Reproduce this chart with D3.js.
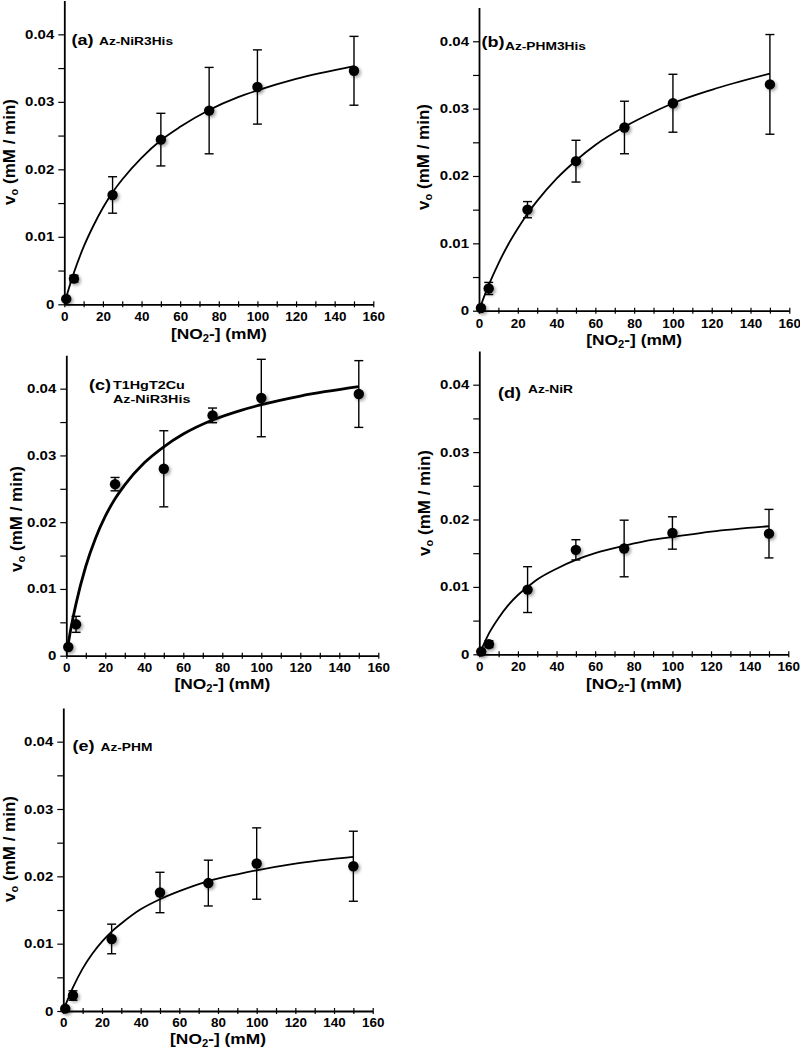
<!DOCTYPE html>
<html>
<head>
<meta charset="utf-8">
<script src="https://cdn.jsdelivr.net/npm/d3@7"></script>
<style>
  html, body { margin: 0; padding: 0; background: #fff; }
  svg { display: block; }
</style>
</head>
<body>
<div id="chart"></div>
<script>
// ---------------- DATA ----------------
const panelIds = ["a", "b", "c", "d", "e"];
const panelTags = ["(a)", "(b)", "(c)", "(d)", "(e)"];
const panelNames = [["Az-NiR3His"], ["Az-PHM3His"], ["T1HgT2Cu", "Az-NiR3His"], ["Az-NiR"], ["Az-PHM"]];

// substrate concentrations [NO2-] (mM)
const nitrite = [1, 5, 25, 50, 75, 100, 150];

// measured initial rates v0 (mM/min) and error bars
const rateA = [0.0008, 0.0038, 0.0162, 0.0244, 0.0287, 0.0322, 0.0346];
const errA  = [0, 0.0005, 0.0027, 0.0039, 0.0064, 0.0055, 0.0051];
const rateB = [0.0004, 0.0033, 0.0150, 0.0222, 0.0272, 0.0308, 0.0336];
const errB  = [0, 0.0009, 0.0012, 0.0031, 0.0039, 0.0043, 0.0074];
const rateC = [0.0013, 0.0047, 0.0257, 0.0280, 0.0360, 0.0386, 0.0392];
const errC  = [0, 0.0012, 0.0010, 0.0057, 0.0011, 0.0058, 0.0050];
const rateD = [0.0004, 0.0015, 0.0096, 0.0155, 0.0157, 0.0180, 0.0179];
const errD  = [0, 0.0005, 0.0034, 0.0015, 0.0042, 0.0024, 0.0036];
const rateE = [0.00035, 0.0023, 0.0107, 0.0176, 0.0190, 0.0219, 0.0215];
const errE  = [0, 0.0007, 0.0022, 0.0030, 0.0034, 0.0053, 0.0052];

// fitted (Michaelis-Menten) curves
const fitX  = [1, 2, 5, 10, 15, 20, 25, 30, 40, 50, 60, 75, 90, 100, 120, 150];
const fitA  = [0.0010, 0.0020, 0.0047, 0.0085, 0.0116, 0.0143, 0.0166, 0.0185, 0.0217, 0.0243, 0.0263, 0.0288, 0.0307, 0.0317, 0.0334, 0.0353];
const fitB  = [0.0008, 0.0016, 0.0038, 0.0070, 0.0098, 0.0122, 0.0144, 0.0163, 0.0196, 0.0223, 0.0246, 0.0273, 0.0295, 0.0308, 0.0328, 0.0352];
const fitC  = [0.0018, 0.0035, 0.0078, 0.0134, 0.0176, 0.0209, 0.0235, 0.0256, 0.0289, 0.0313, 0.0332, 0.0353, 0.0368, 0.0376, 0.0389, 0.0403];
const fitD  = [0.0007, 0.0013, 0.0031, 0.0054, 0.0073, 0.0088, 0.0100, 0.0111, 0.0127, 0.0140, 0.0150, 0.0161, 0.0170, 0.0174, 0.0182, 0.0190];
const fitE  = [0.0008, 0.0015, 0.0035, 0.0063, 0.0085, 0.0103, 0.0118, 0.0130, 0.0151, 0.0166, 0.0178, 0.0193, 0.0203, 0.0209, 0.0219, 0.0229];

const rates = [rateA, rateB, rateC, rateD, rateE];
const errs = [errA, errB, errC, errD, errE];
const fits = [fitA, fitB, fitC, fitD, fitE];

// axes
const xTicks = [0, 20, 40, 60, 80, 100, 120, 140, 160];
const xMinorTicks = [10, 30, 50, 70, 90, 110, 130, 150];
const yTicks = [0, 0.01, 0.02, 0.03, 0.04];
const yMinorTicks = [0.005, 0.015, 0.025, 0.035];
const yTickLabels = ["0", "0.01", "0.02", "0.03", "0.04"];
const xDomain = [0, 160];
const yDomain = [0, 0.045];

// ---------------- LAYOUT ----------------
const layout = {
  a: { x0: 64.3, x1: 373.3, y0: 304.3, yT: 0.6,   tp: 8, xlDy: 34.5, ylx: 15,  yly: 152, tagX: 71.5, tagY: 44.5, nameX: 99,  nameY: [44.5], nameSize: 11 },
  b: { x0: 479,  x1: 789.3, y0: 310.7, yT: 7.6,   tp: 8, xlDy: 34.5, ylx: 429, yly: 157, tagX: 481.5, tagY: 46.5, nameX: 505, nameY: [50], nameSize: 11 },
  c: { x0: 66.3, x1: 378.3, y0: 655.7, yT: 355.3, tp: 7, xlDy: 33.5, ylx: 22,  yly: 519, tagX: 89,  tagY: 390, nameX: 113, nameY: [389, 402.5], nameSize: 11.5 },
  d: { x0: 479.3, x1: 788.3, y0: 654.3, yT: 351,  tp: 8, xlDy: 34.5, ylx: 430, yly: 503, tagX: 498, tagY: 398, nameX: 528, nameY: [393], nameSize: 11 },
  e: { x0: 63.3, x1: 372.7, y0: 1011, yT: 708,    tp: 7, xlDy: 33,   ylx: 15,  yly: 849, tagX: 72.5, tagY: 750.5, nameX: 100.5, nameY: [750.5], nameSize: 11 }
};

const FONT = "'Liberation Sans', Arial, Helvetica, sans-serif";
const SX = 1.2;   // horizontal stretch of the text in the original
const SXX = 1.05; // stretch of the x tick labels

const svg = d3.select("#chart").append("svg")
  .attr("width", 800).attr("height", 1050)
  .attr("viewBox", "0 0 800 1050");
svg.append("rect").attr("width", 800).attr("height", 1050).attr("fill", "#fff");

const defs = svg.append("defs");
const f = defs.append("filter").attr("id", "shadow")
  .attr("x", "-50%").attr("y", "-50%").attr("width", "220%").attr("height", "220%");
f.append("feDropShadow").attr("dx", 1.8).attr("dy", 1.8).attr("stdDeviation", 1.4)
  .attr("flood-color", "#000").attr("flood-opacity", 0.35);

function sText(parent, x, y, size, anchor, sx) {
  const g = parent.append("g").attr("transform", `translate(${x},${y}) scale(${sx},1)`);
  return g.append("text")
    .attr("font-family", FONT).attr("font-weight", "bold")
    .attr("font-size", size).attr("text-anchor", anchor).attr("fill", "#000");
}

panelIds.forEach((id, i) => {
  const L = layout[id];
  const g = svg.append("g").attr("class", "panel-" + id);
  const x = d3.scaleLinear().domain(xDomain).range([L.x0, L.x1]);
  const y = d3.scaleLinear().domain(yDomain).range([L.y0, L.yT]);

  // y axis
  const yAx = g.append("g").attr("transform", `translate(${L.x0},0)`)
    .call(d3.axisLeft(y).tickValues(yTicks).tickSize(6).tickSizeOuter(0).tickPadding(4)
      .tickFormat((d, k) => yTickLabels[k]));
  yAx.select(".domain").attr("stroke-width", 1.8);
  yAx.selectAll(".tick line").attr("stroke-width", 1.2);
  yAx.selectAll(".tick text")
    .attr("font-family", FONT).attr("font-weight", "bold").attr("font-size", 12.5)
    .attr("x", -10 / SX).attr("transform", `scale(${SX},1)`);
  const yMin = g.append("g").attr("transform", `translate(${L.x0},0)`)
    .call(d3.axisLeft(y).tickValues(yMinorTicks).tickSize(6).tickSizeOuter(0).tickFormat(""));
  yMin.select(".domain").remove();
  yMin.selectAll(".tick line").attr("stroke-width", 1.2);

  // x axis
  const xAx = g.append("g").attr("transform", `translate(0,${L.y0})`)
    .call(d3.axisBottom(x).tickValues(xTicks).tickSize(0).tickSizeOuter(0).tickPadding(L.tp)
      .tickFormat(d3.format("d")));
  xAx.select(".domain").attr("stroke-width", 1.8);
  xAx.selectAll(".tick text")
    .attr("font-family", FONT).attr("font-weight", "bold").attr("font-size", 12.8)
    .attr("transform", `scale(${SXX},1)`);
  const xTk = g.append("g").attr("transform", `translate(0,${L.y0 - 3})`)
    .call(d3.axisBottom(x).tickValues(xTicks.concat(xMinorTicks)).tickSize(6).tickSizeOuter(0).tickFormat(""));
  xTk.select(".domain").remove();
  xTk.selectAll(".tick line").attr("stroke-width", 1.2);

  // x axis label
  const xl = sText(g, (L.x0 + L.x1) / 2, L.y0 + L.xlDy, 15.5, "middle", 1.12);
  xl.append("tspan").text("[NO");
  xl.append("tspan").attr("font-size", 10).attr("dy", 3).text("2");
  xl.append("tspan").attr("dy", -3).text("-] (mM)");

  // y axis label
  const ylg = g.append("g").attr("transform", `translate(${L.ylx},${L.yly}) rotate(-90)`);
  const yl = ylg.append("text").attr("font-family", FONT).attr("font-weight", "bold")
    .attr("font-size", 17).attr("text-anchor", "middle");
  yl.append("tspan").text("v");
  yl.append("tspan").attr("font-size", 11).attr("dy", 3).text("o");
  yl.append("tspan").attr("dy", -3).text(" (mM / min)");

  // panel labels
  sText(g, L.tagX, L.tagY, 15, "start", SX).text(panelTags[i]);
  panelNames[i].forEach((nm, k) => {
    sText(g, L.nameX, L.nameY[k], L.nameSize, "start", 1.25).text(nm);
  });

  // fit curve
  const line = d3.line().x(d => x(d[0])).y(d => y(d[1])).curve(d3.curveMonotoneX);
  g.append("path").datum(fitX.map((xv, k) => [xv, fits[i][k]]))
    .attr("d", line).attr("fill", "none").attr("stroke", "#000")
    .attr("stroke-width", id === "c" ? 2.8 : 1.8);

  // error bars
  const pts = nitrite.map((xv, k) => ({ x: xv, v: rates[i][k], e: errs[i][k] }));
  const eb = g.append("g");
  pts.filter(p => p.e > 0).forEach(p => {
    eb.append("line").attr("x1", x(p.x)).attr("x2", x(p.x))
      .attr("y1", y(p.v - p.e)).attr("y2", y(p.v + p.e))
      .attr("stroke", "#000").attr("stroke-width", 1.4);
    [p.v - p.e, p.v + p.e].forEach(vv => {
      eb.append("line").attr("x1", x(p.x) - 4.5).attr("x2", x(p.x) + 4.5)
        .attr("y1", y(vv)).attr("y2", y(vv))
        .attr("stroke", "#000").attr("stroke-width", 1.4);
    });
  });

  // points
  g.append("g").selectAll("circle").data(pts).join("circle")
    .attr("cx", d => x(d.x)).attr("cy", d => y(d.v)).attr("r", 5.2)
    .attr("fill", "#000").attr("filter", "url(#shadow)");
});
</script>
</body>
</html>
